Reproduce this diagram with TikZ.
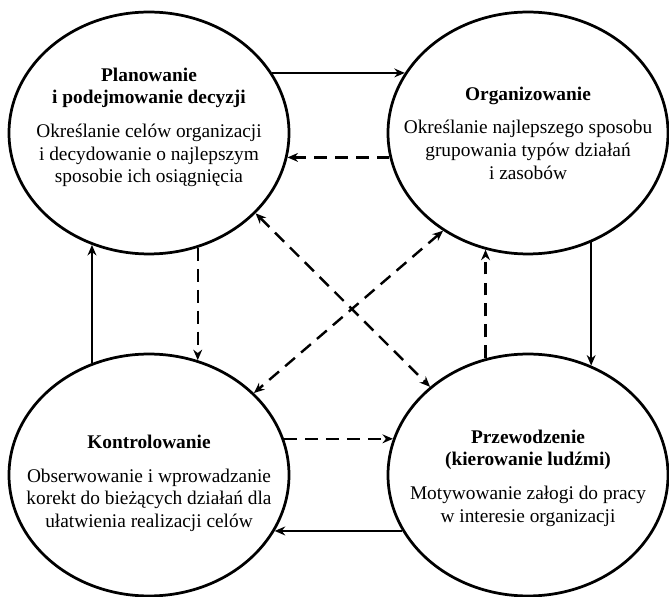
\documentclass[tikz,border=0pt]{standalone}
\usepackage{fontspec}
\setmainfont{Liberation Serif}
\usetikzlibrary{shapes.geometric,arrows.meta}
\begin{document}
\begin{tikzpicture}[line join=round,>={Stealth[length=6.5pt,width=5.5pt]},x=0.62pt,y=-0.62pt,
	krag/.style={draw,ellipse,line width=1.7pt,minimum width=173.6pt,minimum height=150pt,inner sep=0pt},
	opis/.style={align=center,font=\fontsize{12}{14}\selectfont},
	ciagla/.style={->,line width=1.5pt},
	przer/.style={->,line width=1.5pt,dash pattern=on 8pt off 5pt}]
		\useasboundingbox (0,0) rectangle (669,597);
		\node[krag] (plan) at (149,133) {};
		\node[krag] (org) at (528,133) {};
		\node[krag] (kontr) at (149,475) {};
		\node[krag] (przew) at (528,475) {};
		\node[opis] (plantxt) at ([yshift=3.5pt]plan.center) {\textbf{Planowanie}\\\textbf{i podejmowanie decyzji}\\[7pt]Określanie celów organizacji\\i decydowanie o najlepszym\\sposobie ich osiągnięcia};
		\node[opis] (orgtxt) at (org.center) {\textbf{Organizowanie}\\[7pt]Określanie najlepszego sposobu\\grupowania typów działań\\i zasobów};
		\node[opis] (kontrtxt) at ([yshift=-5pt]kontr.center) {\textbf{Kontrolowanie}\\[7pt]Obserwowanie i wprowadzanie\\korekt do bieżących działań dla\\ułatwienia realizacji celów};
		\node[opis] (przewtxt) at ([yshift=-2pt]przew.center) {\textbf{Przewodzenie}\\\textbf{(kierowanie ludźmi)}\\[7pt]Motywowanie załogi do pracy\\w interesie organizacji};
		\draw [ciagla] (plan.26) -- (org.154);
		\draw [przer] (org.190) -- (plan.-10);
		\draw [ciagla] (org.-60) -- (przew.60);
		\draw [przer] (przew.110) -- (org.250);
		\draw [ciagla] (przew.204) -- (kontr.-24);
		\draw [przer] (kontr.15) -- (przew.165);
		\draw [ciagla] (kontr.117) -- (plan.243);
		\draw [przer] (plan.-67) -- (kontr.67);
		\draw [przer,<->] (plan.-37) -- (przew.138);
		\draw [przer,<->] (org.229) -- (kontr.38);
\end{tikzpicture}
\end{document}
